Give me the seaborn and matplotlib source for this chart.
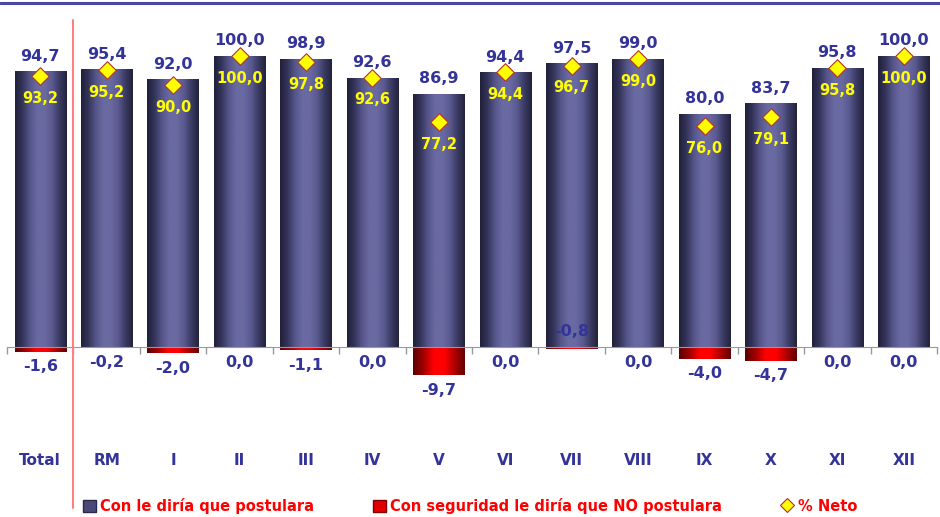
"""
Recreation of a bar chart: share of people who would tell someone to apply
(by region), with the 'NO' share below zero and the net % as diamonds.
"""

import numpy as np
import pandas as pd
import seaborn as sns
import matplotlib.pyplot as plt
from matplotlib.colors import LinearSegmentedColormap
from matplotlib.lines import Line2D
from matplotlib.patches import Patch


# =========================== DATA =====================================

categories = ['Total', 'RM', 'I', 'II', 'III', 'IV', 'V', 'VI', 'VII',
              'VIII', 'IX', 'X', 'XI', 'XII']
si_postulara = [94.7, 95.4, 92.0, 100.0, 98.9, 92.6, 86.9, 94.4, 97.5,
                99.0, 80.0, 83.7, 95.8, 100.0]
no_postulara = [-1.6, -0.2, -2.0, 0.0, -1.1, 0.0, -9.7, 0.0, -0.8,
                0.0, -4.0, -4.7, 0.0, 0.0]
neto = [93.2, 95.2, 90.0, 100.0, 97.8, 92.6, 77.2, 94.4, 96.7,
        99.0, 76.0, 79.1, 95.8, 100.0]

legend_labels = ['Con le diría que postulara',
                 'Con seguridad le diría que NO postulara',
                 '% Neto']

# ========================= STYLE ======================================

BLUE_TXT = '#333399'
YELLOW = '#ffff00'
RED_TXT = '#ff0000'

blue_cmap = LinearSegmentedColormap.from_list(
    'cyl_blue', ['#20203a', '#34345a', '#55558a', '#6a6aa2', '#6a6aa2',
                 '#5a5a90', '#3a3a62', '#22223c'])
red_cmap = LinearSegmentedColormap.from_list(
    'cyl_red', ['#5a0000', '#a00000', '#ff0000', '#ff0000', '#b00000',
                '#600000'])


def shade_bars(ax, patches, cmap):
    """Paint a horizontal cylinder gradient inside each bar patch."""
    grad = np.linspace(0, 1, 256).reshape(1, -1)
    for p in patches:
        x0, y0 = p.get_x(), p.get_y()
        w, h = p.get_width(), p.get_height()
        if h == 0:
            continue
        p.set_facecolor('none')
        p.set_edgecolor('none')
        im = ax.imshow(grad, cmap=cmap, aspect='auto',
                       extent=(x0, x0 + w, y0, y0 + h), zorder=1)
        im.set_clip_path(p)


# ============================ PLOT ====================================

sns.set_style('white')
plt.rcParams['font.family'] = ['DejaVu Sans']

df = pd.DataFrame({'cat': categories, 'si': si_postulara,
                   'no': no_postulara, 'neto': neto})
n = len(categories)
pos = np.arange(n)

fig = plt.figure(figsize=(9.4, 5.17), dpi=100)
ax = fig.add_axes([7 / 940, 0.2444, 930 / 940, 0.7148])

sns.barplot(data=df, x='cat', y='si', color='#55558a', width=0.77,
            ax=ax, zorder=1)
blue_patches = list(ax.patches)
sns.barplot(data=df, x='cat', y='no', color='#ff0000', width=0.77,
            ax=ax, zorder=1)
red_patches = ax.patches[len(blue_patches):]

shade_bars(ax, blue_patches, blue_cmap)
shade_bars(ax, red_patches, red_cmap)

sns.scatterplot(x=pos, y=df['neto'], marker='D', s=80, color=YELLOW,
                edgecolor='#b03030', linewidth=0.8, ax=ax, zorder=5,
                legend=False)

ax.set_xlim(-0.5, n - 0.5)
ax.set_ylim(-15, 112)

# Value labels
for i in range(n):
    ax.annotate(f'{si_postulara[i]:.1f}'.replace('.', ','),
                (i, si_postulara[i]), xytext=(0, 11),
                textcoords='offset points', ha='center', va='center',
                color=BLUE_TXT, fontsize=11.5, fontweight='bold', zorder=6)
    ax.annotate(f'{neto[i]:.1f}'.replace('.', ','),
                (i, neto[i]), xytext=(0, -16),
                textcoords='offset points', ha='center', va='center',
                color=YELLOW, fontsize=10.5, fontweight='bold', zorder=6)
    if categories[i] == 'VII':
        off = 11
        base = 0
    else:
        off = -11
        base = min(no_postulara[i], 0)
    ax.annotate(f'{no_postulara[i]:.1f}'.replace('.', ','),
                (i, base), xytext=(0, off),
                textcoords='offset points', ha='center', va='center',
                color=BLUE_TXT, fontsize=11.5, fontweight='bold', zorder=6)

# Axis styling
for s in ['top', 'right', 'left']:
    ax.spines[s].set_visible(False)
ax.spines['bottom'].set_position(('data', 0))
ax.spines['bottom'].set_color('#999999')
ax.spines['bottom'].set_zorder(3)
ax.set_yticks([])
ax.set_xlabel('')
ax.set_ylabel('')
ax.set_xticks(pos)
ax.set_xticklabels(categories, color=BLUE_TXT, fontsize=11,
                   fontweight='bold')
ax.set_xticks(np.arange(-0.5, n), minor=True)
ax.tick_params(axis='x', which='major', length=0, pad=76)
ax.tick_params(axis='x', which='minor', length=5, width=1,
               color='#999999', direction='out', bottom=True)

# Decorations: top rule and red divider
fig.add_artist(Line2D([0, 1], [1 - 2.5 / 517] * 2, color='#4848a8',
                      lw=2.2, transform=fig.transFigure))
fig.add_artist(Line2D([72.5 / 940] * 2, [1 - 20 / 517, 1 - 508 / 517],
                      color='#ff8080', lw=1.5, transform=fig.transFigure))

# Legend
handles = [
    Patch(facecolor='#4a4a78', edgecolor='#2a2a48'),
    Patch(facecolor='#e00000', edgecolor='#800000'),
    Line2D([], [], marker='D', linestyle='none', markersize=7,
           markerfacecolor=YELLOW, markeredgecolor='#b03030',
           markeredgewidth=0.8),
]
fig.legend(handles, legend_labels, loc='center left',
           bbox_to_anchor=(83 / 940, 1 - 506 / 517), ncol=3,
           frameon=False, borderpad=0, borderaxespad=0,
           handlelength=0.9, handleheight=0.9, handletextpad=0.3,
           columnspacing=4.0,
           prop={'weight': 'bold', 'size': 10.5}, labelcolor=RED_TXT)

fig.savefig('out.png', dpi=100)
